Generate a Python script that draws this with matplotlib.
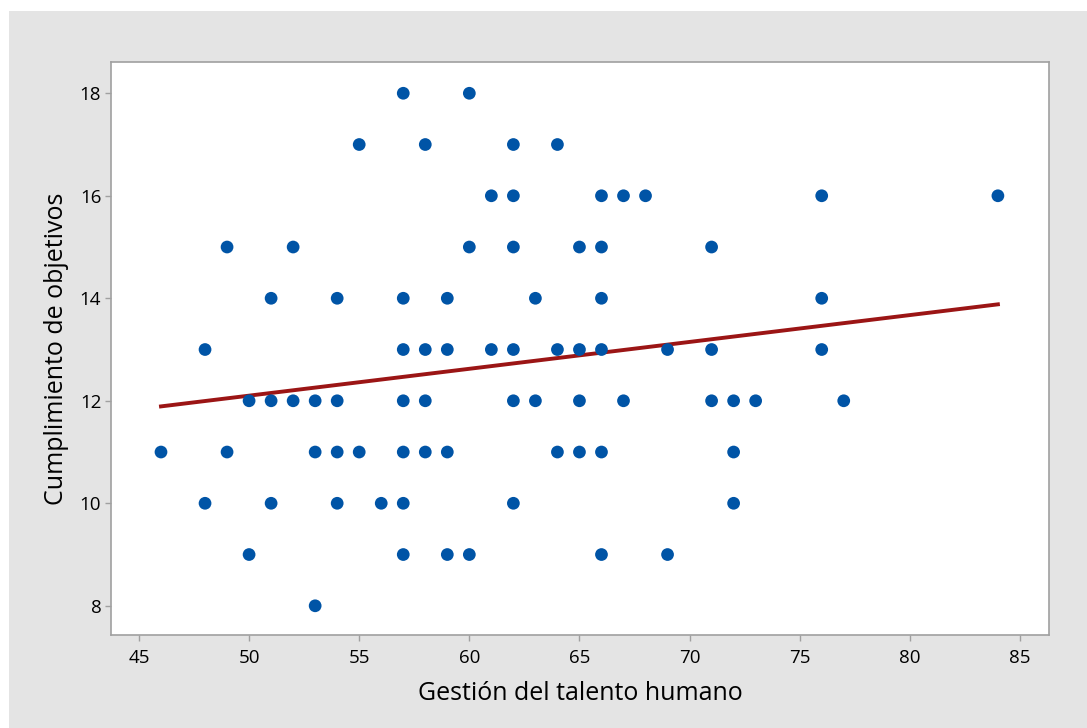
import numpy as np
from matplotlib import pyplot as plt
from matplotlib.patches import Rectangle

# scores, grouped by y value
y_levels = [18, 17, 16, 15, 14, 13, 12, 11, 10, 9, 8]
x_by_level = [
    [57, 60],
    [55, 58, 62, 64],
    [61, 62, 66, 67, 68, 76, 84],
    [49, 52, 60, 62, 65, 66, 71],
    [51, 54, 57, 59, 63, 66, 76],
    [48, 57, 58, 59, 61, 62, 64, 65, 66, 69, 71, 76],
    [50, 51, 52, 53, 54, 57, 58, 62, 63, 65, 67, 71, 72, 73, 77],
    [46, 49, 53, 54, 55, 57, 58, 59, 64, 65, 66, 72],
    [48, 51, 54, 56, 57, 62, 72],
    [50, 57, 59, 60, 66, 69],
    [53],
]
x_ticks = [45, 50, 55, 60, 65, 70, 75, 80, 85]
y_ticks = [8, 10, 12, 14, 16, 18]

# fitted line (overlapping points hide duplicates,
# so refitting the visible points would not give the same line)
fit_intercept = 9.48
fit_slope = 0.0524

talento = np.array([x for xs in x_by_level for x in xs], dtype=float)
objetivos = np.array([y for y, xs in zip(y_levels, x_by_level) for _ in xs], dtype=float)

plt.rcParams['font.family'] = ['Open Sans', 'DejaVu Sans']

fig = plt.figure(figsize=(10.87, 7.28), dpi=100)
fig.patch.set_facecolor('white')
fig.patches.append(Rectangle((9 / 1087, 0), 1, 1 - 11 / 728, transform=fig.transFigure,
                             facecolor='#e4e4e4', edgecolor='none', zorder=-10))

ax = fig.add_axes([111 / 1087, 1 - 635 / 728, (1049 - 111) / 1087, (635 - 62) / 728])
ax.set_facecolor('white')

ax.scatter(talento, objetivos, s=84, color='#0054a6', edgecolors='none', zorder=3)

xs = np.array([talento.min(), talento.max()])
ax.plot(xs, fit_intercept + fit_slope * xs, color='#9b1515', linewidth=2.8, zorder=2)

ax.set_xlim(43.73, 86.32)
ax.set_ylim(7.43, 18.61)
ax.set_xticks(x_ticks)
ax.set_yticks(y_ticks)
ax.tick_params(axis='both', colors='#a0a0a0', length=4, width=1, labelcolor='black', labelsize=13.5)
ax.tick_params(axis='x', pad=6)
ax.tick_params(axis='y', pad=3)
for sp in ax.spines.values():
    sp.set_color('#a0a0a0')
    sp.set_linewidth(1.2)

ax.set_xlabel('Gestión del talento humano', fontsize=18, labelpad=10)
ax.set_ylabel('Cumplimiento de objetivos', fontsize=18, labelpad=8)

fig.savefig('out.png', dpi=100)
